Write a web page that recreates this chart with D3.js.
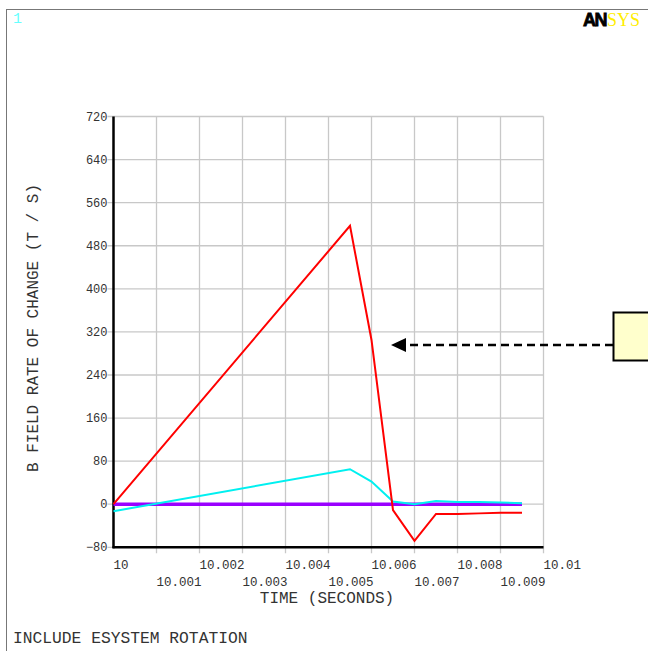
<!DOCTYPE html>
<html><head><meta charset="utf-8">
<script src="https://cdn.jsdelivr.net/npm/d3@7"></script>
<style>body{margin:0;background:#fff}svg{display:block}text{font-family:"Liberation Mono","DejaVu Sans Mono",monospace}</style>
</head><body><svg id="c" width="648" height="651"></svg>
<script>
const xTicks = [10,10.001,10.002,10.003,10.004,10.005,10.006,10.007,10.008,10.009,10.01];
const yTicks = [-80,0,80,160,240,320,400,480,560,640,720];
const redTime = [10,10.0055,10.006,10.0065,10.007,10.0075,10.008,10.0085,10.009,10.0095];
const redVal  = [0,517,305,-11,-68,-18,-18,-17,-16,-16];
const cyanTime = [10,10.0055,10.006,10.0065,10.007,10.0075,10.008,10.0085,10.009,10.0095];
const cyanVal  = [-13,65,42,5,0,6,4,4,3,2];
const purpleTime = [10,10.0095];
const purpleVal = [0,0];

const svg = d3.select("#c");
const x = d3.scaleLinear().domain([10,10.01]).range([113.5,543.5]);
const y = d3.scaleLinear().domain([-80,720]).range([547.3,116.5]);

// frame
svg.append("line").attr("x1",6).attr("x2",648).attr("y1",9.5).attr("y2",9.5).attr("stroke","#777").attr("stroke-width",1);
svg.append("line").attr("x1",6.5).attr("x2",6.5).attr("y1",9).attr("y2",651).attr("stroke","#777").attr("stroke-width",1);
svg.append("text").attr("x",13).attr("y",23).attr("fill","#66ffff").attr("font-size",15).attr("font-family","Liberation Serif").text("1");
const logo = svg.append("text").attr("x",583).attr("y",26).attr("font-size",18);
logo.append("tspan").attr("font-family","Liberation Sans").attr("font-weight","900").attr("fill","#000").attr("letter-spacing","-1.5").attr("stroke","#000").attr("stroke-width",0.8).text("AN");
logo.append("tspan").attr("font-family","Liberation Serif").attr("fill","#ffee00").attr("dx",1).text("SYS");

// grid
const g = svg.append("g");
g.selectAll(".vg").data(xTicks.slice(1)).join("line")
  .attr("x1",d=>x(d)).attr("x2",d=>x(d)).attr("y1",y(720)).attr("y2",y(-80)+6)
  .attr("stroke","#c8c8c8").attr("stroke-width",1.3);
g.selectAll(".hg").data(yTicks).join("line")
  .attr("x1",x(10)-6).attr("x2",x(10.01)).attr("y1",d=>y(d)).attr("y2",d=>y(d))
  .attr("stroke","#c8c8c8").attr("stroke-width",1.3);

// axes
svg.append("line").attr("x1",x(10)).attr("x2",x(10)).attr("y1",y(720)).attr("y2",y(-80)+1).attr("stroke","#000").attr("stroke-width",2.5);
svg.append("line").attr("x1",x(10)-1).attr("x2",x(10.01)).attr("y1",y(-80)).attr("y2",y(-80)).attr("stroke","#000").attr("stroke-width",2.5);

// y tick labels
svg.selectAll(".yl").data(yTicks).join("text")
  .attr("x",x(10)-6).attr("y",d=>y(d)+4).attr("text-anchor","end")
  .attr("font-size",12).attr("fill","#333").text(d=>d===0?"0":d<0?"−"+Math.abs(d):String(d));
// x tick labels
const fmt = d => String(+d.toFixed(3));
svg.selectAll(".xl").data(xTicks).join("text")
  .attr("x",d=>x(d)).attr("y",(d,i)=>i%2===0?569:586)
  .attr("font-size",12.5).attr("fill","#333").text(fmt);

svg.append("text").attr("x",327).attr("y",603).attr("text-anchor","middle").attr("font-size",16).attr("fill","#333").text("TIME (SECONDS)");
svg.append("text").attr("transform","translate(38,328) rotate(-90)").attr("text-anchor","middle").attr("font-size",16).attr("fill","#333").text("B FIELD RATE OF CHANGE (T / S)");
svg.append("text").attr("x",13).attr("y",643).attr("font-size",16.3).attr("fill","#333").text("INCLUDE ESYSTEM ROTATION");

// series
const line = d3.line().x(d=>x(d[0])).y(d=>y(d[1]));
const ser = [
  {t:purpleTime,v:purpleVal,c:"#9a00ff",w:3.5},
  {t:cyanTime,v:cyanVal,c:"#00f0f0",w:2},
  {t:redTime,v:redVal,c:"#ff0000",w:2}
];
ser.forEach(s=>{
  svg.append("path").attr("d",line(s.t.map((t,i)=>[t,s.v[i]])))
    .attr("fill","none").attr("stroke",s.c).attr("stroke-width",s.w).attr("stroke-linejoin","miter");
});

// annotation
svg.append("line").attr("x1",613).attr("x2",404).attr("y1",345).attr("y2",345)
  .attr("stroke","#000").attr("stroke-width",2.5).attr("stroke-dasharray","8,5");
svg.append("path").attr("d","M391,345 L406,338 L406,352 Z").attr("fill","#000");
svg.append("rect").attr("x",613.5).attr("y",312.5).attr("width",40).attr("height",48)
  .attr("fill","#ffffcc").attr("stroke","#000").attr("stroke-width",2);
</script></body></html>
